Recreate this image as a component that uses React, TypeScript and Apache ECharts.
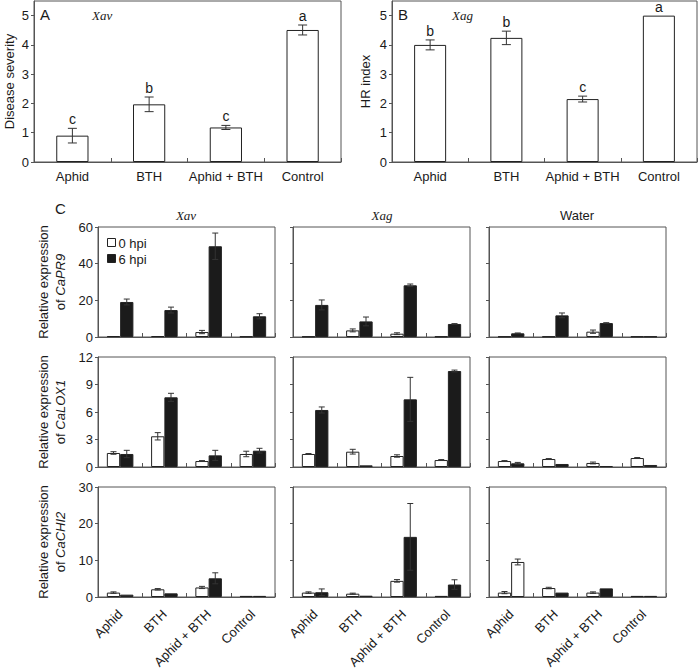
import React, { useEffect, useRef } from "react";
import * as echarts from "echarts";

// ---------- data ----------
const treatments = ["Aphid", "BTH", "Aphid + BTH", "Control"];

// Panel A (Xav) disease severity
const severityMean = [0.9, 1.97, 1.18, 4.51];
const severitySd = [0.25, 0.25, 0.07, 0.17];
const severityLetters = ["c", "b", "c", "a"];

// Panel B (Xag) HR index
const hrMean = [4.0, 4.24, 2.15, 5.0];
const hrSd = [0.17, 0.23, 0.1, 0];
const hrLetters = ["b", "b", "c", "a"];

// Panel C – CaPR9
const pr9Xav0 = [0.5, 0.5, 2.7, 0.3];
const pr9Xav0Sd = [0, 0, 0.9, 0];
const pr9Xav6 = [19.1, 14.7, 49.5, 11.3];
const pr9Xav6Sd = [1.6, 1.6, 7.2, 1.4];
const pr9Xag0 = [0.3, 3.6, 1.8, 0.3];
const pr9Xag0Sd = [0, 0.8, 0.5, 0];
const pr9Xag6 = [17.5, 8.5, 28.2, 7.1];
const pr9Xag6Sd = [2.7, 2.4, 0.7, 0.2];
const pr9Water0 = [0.3, 0.3, 2.9, 0.3];
const pr9Water0Sd = [0, 0, 0.9, 0];
const pr9Water6 = [2.0, 11.8, 7.6, 0.3];
const pr9Water6Sd = [0.2, 1.3, 0.2, 0];

// Panel C – CaLOX1
const lox1Xav0 = [1.53, 3.35, 0.65, 1.42];
const lox1Xav0Sd = [0.14, 0.4, 0.05, 0.3];
const lox1Xav6 = [1.42, 7.6, 1.27, 1.78];
const lox1Xav6Sd = [0.4, 0.44, 0.55, 0.26];
const lox1Xag0 = [1.42, 1.67, 1.2, 0.76];
const lox1Xag0Sd = [0.05, 0.26, 0.13, 0.05];
const lox1Xag6 = [6.22, 0.18, 7.38, 10.47];
const lox1Xag6Sd = [0.33, 0, 2.4, 0.1];
const lox1Water0 = [0.65, 0.87, 0.44, 0.98];
const lox1Water0Sd = [0.05, 0.05, 0.1, 0.05];
const lox1Water6 = [0.4, 0.33, 0.1, 0.22];
const lox1Water6Sd = [0.1, 0, 0, 0];

// Panel C – CaCHI2
const chi2Xav0 = [1.2, 2.1, 2.6, 0.3];
const chi2Xav0Sd = [0.2, 0.2, 0.3, 0];
const chi2Xav6 = [0.64, 1.0, 5.1, 0.3];
const chi2Xav6Sd = [0, 0, 1.5, 0];
const chi2Xag0 = [1.2, 0.9, 4.4, 0.3];
const chi2Xag0Sd = [0.2, 0.15, 0.35, 0];
const chi2Xag6 = [1.3, 0.35, 16.4, 3.4];
const chi2Xag6Sd = [0.9, 0, 9.1, 1.3];
const chi2Water0 = [1.2, 2.45, 1.2, 0.3];
const chi2Water0Sd = [0.3, 0.2, 0.2, 0];
const chi2Water6 = [9.55, 1.2, 2.35, 0.3];
const chi2Water6Sd = [0.8, 0, 0, 0];
// the 6 hpi Aphid bar of Water / CaCHI2 is drawn open in the original
const chi2Water6Open = [true, false, false, false];

const columnTitles = ["Xav", "Xag", "Water"];
const genes = ["CaPR9", "CaLOX1", "CaCHI2"];
const rowMax = [60, 12, 30];
const rowInterval = [20, 3, 10];

const panelsC = [
  [
    [pr9Xav0, pr9Xav0Sd, pr9Xav6, pr9Xav6Sd],
    [pr9Xag0, pr9Xag0Sd, pr9Xag6, pr9Xag6Sd],
    [pr9Water0, pr9Water0Sd, pr9Water6, pr9Water6Sd],
  ],
  [
    [lox1Xav0, lox1Xav0Sd, lox1Xav6, lox1Xav6Sd],
    [lox1Xag0, lox1Xag0Sd, lox1Xag6, lox1Xag6Sd],
    [lox1Water0, lox1Water0Sd, lox1Water6, lox1Water6Sd],
  ],
  [
    [chi2Xav0, chi2Xav0Sd, chi2Xav6, chi2Xav6Sd],
    [chi2Xag0, chi2Xag0Sd, chi2Xag6, chi2Xag6Sd],
    [chi2Water0, chi2Water0Sd, chi2Water6, chi2Water6Sd],
  ],
];

// ---------- styling ----------
const SANS = "'Liberation Sans', Arial, Helvetica, sans-serif";
const SERIF = "'Liberation Serif', 'Times New Roman', serif";
const TXT = "#1a1a1a";
const FRAME = "#555";
const BAR_EDGE = "#222";
const BLACK = "#1b1b1b";

function errSeries(
  idx: number,
  means: number[],
  sds: number[],
  offset: number,
  cap: number,
  letters?: string[]
) {
  return {
    type: "custom",
    xAxisIndex: idx,
    yAxisIndex: idx,
    silent: true,
    z: 10,
    data: means.map((m, i) => [i, m, sds[i]]),
    renderItem: (params: any, api: any) => {
      const i = api.value(0);
      const m = api.value(1);
      const e = api.value(2);
      const band = api.size([1, 0])[0];
      const x = api.coord([i, m])[0] + offset * band;
      const yHi = api.coord([i, m + e])[1];
      const yLo = api.coord([i, Math.max(0, m - e)])[1];
      const st = { stroke: "#333", lineWidth: 1 };
      const children: any[] = [];
      if (e > 0) {
        children.push({ type: "line", shape: { x1: x, y1: yHi, x2: x, y2: yLo }, style: st });
        children.push({ type: "line", shape: { x1: x - cap / 2, y1: yHi, x2: x + cap / 2, y2: yHi }, style: st });
        children.push({ type: "line", shape: { x1: x - cap / 2, y1: yLo, x2: x + cap / 2, y2: yLo }, style: st });
      }
      if (letters) {
        children.push({
          type: "text",
          style: {
            text: letters[i],
            x,
            y: yHi - 9,
            align: "center",
            verticalAlign: "middle",
            font: `14px ${SANS}`,
            fill: TXT,
          },
        });
      }
      return { type: "group", children };
    },
  };
}

function buildOption() {
  const grid: any[] = [];
  const xAxis: any[] = [];
  const yAxis: any[] = [];
  const series: any[] = [];

  const baseX = (showLabel: boolean, rotate: number, margin: number) => ({
    type: "category",
    data: treatments,
    axisLine: { show: true, lineStyle: { color: FRAME, width: 1 } },
    axisTick: { show: true, inside: true, length: 4, alignWithLabel: false, lineStyle: { color: FRAME } },
    axisLabel: {
      show: showLabel,
      interval: 0,
      rotate,
      margin,
      fontFamily: SANS,
      fontSize: 13,
      color: TXT,
    },
    splitLine: { show: false },
  });

  const baseY = (max: number, interval: number, showLabel: boolean, name: string, nameGap: number, rich?: any) => ({
    type: "value",
    min: 0,
    max,
    interval,
    name,
    nameLocation: "middle",
    nameRotate: 90,
    nameGap,
    nameTextStyle: { fontFamily: SANS, fontSize: 13, color: TXT, rich },
    axisLine: { show: true, lineStyle: { color: FRAME, width: 1 } },
    axisTick: { show: true, inside: false, length: 3, lineStyle: { color: FRAME } },
    axisLabel: {
      show: showLabel,
      showMaxLabel: Number.isInteger(max / interval) ? true : false,
      margin: 5,
      fontFamily: SANS,
      fontSize: 13,
      color: TXT,
    },
    splitLine: { show: false },
  });

  const gridBase = {
    show: true,
    borderColor: FRAME,
    borderWidth: 1,
    backgroundColor: "transparent",
    containLabel: false,
    outerBoundsMode: "none",
  };

  // Panel A
  grid.push({ ...gridBase, left: 34, top: 1, width: 307, height: 161 });
  xAxis.push({ ...baseX(true, 0, 8), gridIndex: 0 });
  yAxis.push({ ...baseY(5.5, 1, true, "Disease severity", 18), gridIndex: 0 });
  series.push({
    type: "bar",
    xAxisIndex: 0,
    yAxisIndex: 0,
    data: severityMean,
    barWidth: "42%",
    itemStyle: { color: "#fff", borderColor: BAR_EDGE, borderWidth: 1 },
    silent: true,
  });
  series.push(errSeries(0, severityMean, severitySd, 0, 9, severityLetters));

  // Panel B
  grid.push({ ...gridBase, left: 392, top: 1, width: 305, height: 161 });
  xAxis.push({ ...baseX(true, 0, 8), gridIndex: 1 });
  yAxis.push({ ...baseY(5.5, 1, true, "HR index", 20), gridIndex: 1 });
  series.push({
    type: "bar",
    xAxisIndex: 1,
    yAxisIndex: 1,
    data: hrMean,
    barWidth: "42%",
    itemStyle: { color: "#fff", borderColor: BAR_EDGE, borderWidth: 1 },
    silent: true,
  });
  series.push(errSeries(1, hrMean, hrSd, 0, 9, hrLetters));

  // Panel C
  const lefts = [98, 293, 489];
  const tops = [227, 357, 487];
  const rich = {
    n: { fontFamily: SANS, fontSize: 13, color: TXT, lineHeight: 17 },
    i: { fontFamily: SANS, fontSize: 13, color: TXT, fontStyle: "italic", lineHeight: 17 },
  };
  let idx = 2;
  for (let r = 0; r < 3; r++) {
    for (let c = 0; c < 3; c++) {
      const [h0, h0sd, h6, h6sd] = panelsC[r][c];
      grid.push({ ...gridBase, left: lefts[c], top: tops[r], width: 177, height: 110 });
      xAxis.push({ ...baseX(r === 2, 45, 15), gridIndex: idx });
      yAxis.push({
        ...baseY(
          rowMax[r],
          rowInterval[r],
          c === 0,
          c === 0 ? `{n|Relative expression}\n{n|of }{i|${genes[r]}}` : "",
          29,
          rich
        ),
        gridIndex: idx,
      });
      const open = r === 2 && c === 2 ? chi2Water6Open : [false, false, false, false];
      series.push({
        type: "bar",
        name: "0 hpi",
        xAxisIndex: idx,
        yAxisIndex: idx,
        data: h0,
        barWidth: "30%",
        barGap: "0%",
        itemStyle: { color: "#fff", borderColor: BAR_EDGE, borderWidth: 1 },
        silent: true,
      });
      series.push({
        type: "bar",
        name: "6 hpi",
        xAxisIndex: idx,
        yAxisIndex: idx,
        data: h6.map((v, i) => (open[i] ? { value: v, itemStyle: { color: "#fff" } } : v)),
        barWidth: "30%",
        barGap: "0%",
        itemStyle: { color: BLACK, borderColor: BAR_EDGE, borderWidth: 1 },
        silent: true,
      });
      series.push(errSeries(idx, h0, h0sd, -0.15, 6));
      series.push(errSeries(idx, h6, h6sd, 0.15, 6));
      idx++;
    }
  }

  const graphic: any[] = [
    { type: "text", left: 40, top: 7, style: { text: "A", font: `15px ${SANS}`, fill: TXT } },
    { type: "text", left: 92, top: 9, style: { text: "Xav", font: `italic 13px ${SERIF}`, fill: TXT } },
    { type: "text", left: 398, top: 7, style: { text: "B", font: `15px ${SANS}`, fill: TXT } },
    { type: "text", left: 452, top: 9, style: { text: "Xag", font: `italic 13px ${SERIF}`, fill: TXT } },
    { type: "text", left: 55, top: 201, style: { text: "C", font: `15px ${SANS}`, fill: TXT } },
    // column titles
    { type: "text", x: 186, y: 215, style: { text: columnTitles[0], font: `italic 13px ${SERIF}`, fill: TXT, align: "center", verticalAlign: "middle" } },
    { type: "text", x: 382, y: 215, style: { text: columnTitles[1], font: `italic 13px ${SERIF}`, fill: TXT, align: "center", verticalAlign: "middle" } },
    { type: "text", x: 577, y: 215, style: { text: columnTitles[2], font: `13px ${SANS}`, fill: TXT, align: "center", verticalAlign: "middle" } },
    // legend
    { type: "rect", shape: { x: 107.5, y: 238.5, width: 8, height: 8 }, style: { fill: "#fff", stroke: BAR_EDGE, lineWidth: 1 } },
    { type: "text", x: 118.5, y: 243, style: { text: "0 hpi", font: `13px ${SANS}`, fill: TXT, verticalAlign: "middle" } },
    { type: "rect", shape: { x: 107.5, y: 254.5, width: 8, height: 8 }, style: { fill: BLACK, stroke: BAR_EDGE, lineWidth: 1 } },
    { type: "text", x: 118.5, y: 259, style: { text: "6 hpi", font: `13px ${SANS}`, fill: TXT, verticalAlign: "middle" } },
  ];

  return {
    animation: false,
    backgroundColor: "#fff",
    textStyle: { fontFamily: SANS },
    grid,
    xAxis,
    yAxis,
    series,
    graphic,
  };
}

export default function App() {
  const ref = useRef<HTMLDivElement>(null);
  useEffect(() => {
    if (!ref.current) return;
    const chart = echarts.init(ref.current, undefined, { renderer: "svg" });
    chart.setOption(buildOption() as any);
    return () => chart.dispose();
  }, []);
  return (
    <div
      ref={ref}
      style={{ position: "fixed", left: 0, top: 0, width: 699, height: 671, background: "#fff" }}
    />
  );
}
